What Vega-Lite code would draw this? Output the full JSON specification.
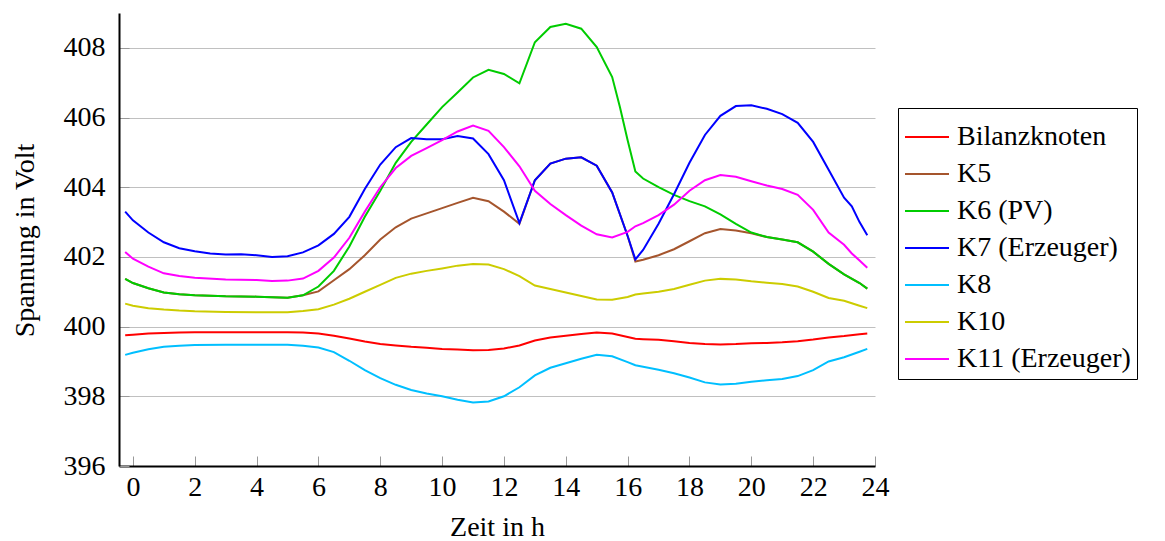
{
"$schema":"https://vega.github.io/schema/vega-lite/v6.json",
"width":756,"height":453,
"autosize":{"type":"none"},
"padding":{"left":119,"top":13,"right":290,"bottom":75},
"background":"white",
"config":{"view":{"stroke":null},"font":"Liberation Serif"},
"data":{"values":[
{"s":"Bilanzknoten","t":-0.25,"v":399.75},{"s":"Bilanzknoten","t":0,"v":399.77},{"s":"Bilanzknoten","t":0.5,"v":399.8},{"s":"Bilanzknoten","t":1,"v":399.82},{"s":"Bilanzknoten","t":1.5,"v":399.83},{"s":"Bilanzknoten","t":2,"v":399.84},{"s":"Bilanzknoten","t":3,"v":399.84},{"s":"Bilanzknoten","t":4,"v":399.84},{"s":"Bilanzknoten","t":5,"v":399.84},{"s":"Bilanzknoten","t":5.5,"v":399.83},{"s":"Bilanzknoten","t":6,"v":399.8},{"s":"Bilanzknoten","t":6.5,"v":399.74},{"s":"Bilanzknoten","t":7,"v":399.66},{"s":"Bilanzknoten","t":7.5,"v":399.57},{"s":"Bilanzknoten","t":8,"v":399.5},{"s":"Bilanzknoten","t":8.5,"v":399.46},{"s":"Bilanzknoten","t":9,"v":399.42},{"s":"Bilanzknoten","t":9.5,"v":399.39},{"s":"Bilanzknoten","t":10,"v":399.36},{"s":"Bilanzknoten","t":10.5,"v":399.34},{"s":"Bilanzknoten","t":11,"v":399.32},{"s":"Bilanzknoten","t":11.5,"v":399.33},{"s":"Bilanzknoten","t":12,"v":399.37},{"s":"Bilanzknoten","t":12.5,"v":399.46},{"s":"Bilanzknoten","t":13,"v":399.6},{"s":"Bilanzknoten","t":13.5,"v":399.69},{"s":"Bilanzknoten","t":14,"v":399.74},{"s":"Bilanzknoten","t":14.5,"v":399.79},{"s":"Bilanzknoten","t":15,"v":399.83},{"s":"Bilanzknoten","t":15.5,"v":399.8},{"s":"Bilanzknoten","t":16,"v":399.7},{"s":"Bilanzknoten","t":16.25,"v":399.65},{"s":"Bilanzknoten","t":16.5,"v":399.64},{"s":"Bilanzknoten","t":17,"v":399.62},{"s":"Bilanzknoten","t":17.5,"v":399.58},{"s":"Bilanzknoten","t":18,"v":399.53},{"s":"Bilanzknoten","t":18.5,"v":399.5},{"s":"Bilanzknoten","t":19,"v":399.49},{"s":"Bilanzknoten","t":19.5,"v":399.5},{"s":"Bilanzknoten","t":20,"v":399.52},{"s":"Bilanzknoten","t":20.5,"v":399.53},{"s":"Bilanzknoten","t":21,"v":399.55},{"s":"Bilanzknoten","t":21.5,"v":399.58},{"s":"Bilanzknoten","t":22,"v":399.63},{"s":"Bilanzknoten","t":22.5,"v":399.69},{"s":"Bilanzknoten","t":23,"v":399.73},{"s":"Bilanzknoten","t":23.5,"v":399.78},{"s":"Bilanzknoten","t":23.75,"v":399.8},
{"s":"K5","t":-0.25,"v":401.37},{"s":"K5","t":0,"v":401.25},{"s":"K5","t":0.5,"v":401.1},{"s":"K5","t":1,"v":400.98},{"s":"K5","t":1.5,"v":400.93},{"s":"K5","t":2,"v":400.9},{"s":"K5","t":3,"v":400.87},{"s":"K5","t":4,"v":400.86},{"s":"K5","t":5,"v":400.83},{"s":"K5","t":5.5,"v":400.9},{"s":"K5","t":6,"v":401.01},{"s":"K5","t":6.5,"v":401.33},{"s":"K5","t":7,"v":401.65},{"s":"K5","t":7.5,"v":402.05},{"s":"K5","t":8,"v":402.5},{"s":"K5","t":8.5,"v":402.85},{"s":"K5","t":9,"v":403.1},{"s":"K5","t":9.5,"v":403.25},{"s":"K5","t":10,"v":403.4},{"s":"K5","t":10.5,"v":403.55},{"s":"K5","t":11,"v":403.7},{"s":"K5","t":11.5,"v":403.6},{"s":"K5","t":12,"v":403.3},{"s":"K5","t":12.5,"v":402.95},{"s":"K5","t":13,"v":404.2},{"s":"K5","t":13.5,"v":404.68},{"s":"K5","t":14,"v":404.82},{"s":"K5","t":14.5,"v":404.86},{"s":"K5","t":15,"v":404.62},{"s":"K5","t":15.5,"v":403.85},{"s":"K5","t":16,"v":402.6},{"s":"K5","t":16.25,"v":401.87},{"s":"K5","t":16.5,"v":401.92},{"s":"K5","t":17,"v":402.05},{"s":"K5","t":17.5,"v":402.22},{"s":"K5","t":18,"v":402.45},{"s":"K5","t":18.5,"v":402.68},{"s":"K5","t":19,"v":402.8},{"s":"K5","t":19.5,"v":402.76},{"s":"K5","t":20,"v":402.68},{"s":"K5","t":20.5,"v":402.57},{"s":"K5","t":21,"v":402.5},{"s":"K5","t":21.5,"v":402.42},{"s":"K5","t":22,"v":402.15},{"s":"K5","t":22.5,"v":401.8},{"s":"K5","t":23,"v":401.5},{"s":"K5","t":23.5,"v":401.25},{"s":"K5","t":23.75,"v":401.09},
{"s":"K6 (PV)","t":-0.25,"v":401.37},{"s":"K6 (PV)","t":0,"v":401.25},{"s":"K6 (PV)","t":0.5,"v":401.1},{"s":"K6 (PV)","t":1,"v":400.98},{"s":"K6 (PV)","t":1.5,"v":400.93},{"s":"K6 (PV)","t":2,"v":400.9},{"s":"K6 (PV)","t":3,"v":400.87},{"s":"K6 (PV)","t":4,"v":400.86},{"s":"K6 (PV)","t":5,"v":400.83},{"s":"K6 (PV)","t":5.5,"v":400.9},{"s":"K6 (PV)","t":6,"v":401.15},{"s":"K6 (PV)","t":6.5,"v":401.6},{"s":"K6 (PV)","t":7,"v":402.3},{"s":"K6 (PV)","t":7.5,"v":403.15},{"s":"K6 (PV)","t":8,"v":403.9},{"s":"K6 (PV)","t":8.5,"v":404.7},{"s":"K6 (PV)","t":9,"v":405.3},{"s":"K6 (PV)","t":9.5,"v":405.8},{"s":"K6 (PV)","t":10,"v":406.3},{"s":"K6 (PV)","t":10.5,"v":406.72},{"s":"K6 (PV)","t":11,"v":407.15},{"s":"K6 (PV)","t":11.5,"v":407.37},{"s":"K6 (PV)","t":12,"v":407.25},{"s":"K6 (PV)","t":12.5,"v":406.98},{"s":"K6 (PV)","t":13,"v":408.16},{"s":"K6 (PV)","t":13.5,"v":408.6},{"s":"K6 (PV)","t":14,"v":408.69},{"s":"K6 (PV)","t":14.5,"v":408.55},{"s":"K6 (PV)","t":15,"v":408.02},{"s":"K6 (PV)","t":15.5,"v":407.16},{"s":"K6 (PV)","t":15.75,"v":406.3},{"s":"K6 (PV)","t":16,"v":405.35},{"s":"K6 (PV)","t":16.25,"v":404.45},{"s":"K6 (PV)","t":16.5,"v":404.25},{"s":"K6 (PV)","t":17,"v":404.0},{"s":"K6 (PV)","t":17.5,"v":403.78},{"s":"K6 (PV)","t":18,"v":403.6},{"s":"K6 (PV)","t":18.5,"v":403.45},{"s":"K6 (PV)","t":19,"v":403.22},{"s":"K6 (PV)","t":19.5,"v":402.95},{"s":"K6 (PV)","t":20,"v":402.7},{"s":"K6 (PV)","t":20.5,"v":402.57},{"s":"K6 (PV)","t":21,"v":402.5},{"s":"K6 (PV)","t":21.5,"v":402.42},{"s":"K6 (PV)","t":22,"v":402.15},{"s":"K6 (PV)","t":22.5,"v":401.8},{"s":"K6 (PV)","t":23,"v":401.5},{"s":"K6 (PV)","t":23.5,"v":401.25},{"s":"K6 (PV)","t":23.75,"v":401.09},
{"s":"K7 (Erzeuger)","t":-0.25,"v":403.3},{"s":"K7 (Erzeuger)","t":0,"v":403.05},{"s":"K7 (Erzeuger)","t":0.5,"v":402.7},{"s":"K7 (Erzeuger)","t":1,"v":402.42},{"s":"K7 (Erzeuger)","t":1.5,"v":402.25},{"s":"K7 (Erzeuger)","t":2,"v":402.16},{"s":"K7 (Erzeuger)","t":2.5,"v":402.1},{"s":"K7 (Erzeuger)","t":3,"v":402.07},{"s":"K7 (Erzeuger)","t":3.5,"v":402.08},{"s":"K7 (Erzeuger)","t":4,"v":402.05},{"s":"K7 (Erzeuger)","t":4.5,"v":402.0},{"s":"K7 (Erzeuger)","t":5,"v":402.02},{"s":"K7 (Erzeuger)","t":5.5,"v":402.13},{"s":"K7 (Erzeuger)","t":6,"v":402.33},{"s":"K7 (Erzeuger)","t":6.5,"v":402.66},{"s":"K7 (Erzeuger)","t":7,"v":403.15},{"s":"K7 (Erzeuger)","t":7.5,"v":403.95},{"s":"K7 (Erzeuger)","t":8,"v":404.65},{"s":"K7 (Erzeuger)","t":8.5,"v":405.15},{"s":"K7 (Erzeuger)","t":9,"v":405.41},{"s":"K7 (Erzeuger)","t":9.5,"v":405.38},{"s":"K7 (Erzeuger)","t":10,"v":405.38},{"s":"K7 (Erzeuger)","t":10.5,"v":405.47},{"s":"K7 (Erzeuger)","t":11,"v":405.4},{"s":"K7 (Erzeuger)","t":11.5,"v":404.95},{"s":"K7 (Erzeuger)","t":12,"v":404.2},{"s":"K7 (Erzeuger)","t":12.5,"v":402.97},{"s":"K7 (Erzeuger)","t":13,"v":404.2},{"s":"K7 (Erzeuger)","t":13.5,"v":404.68},{"s":"K7 (Erzeuger)","t":14,"v":404.82},{"s":"K7 (Erzeuger)","t":14.5,"v":404.86},{"s":"K7 (Erzeuger)","t":15,"v":404.62},{"s":"K7 (Erzeuger)","t":15.5,"v":403.85},{"s":"K7 (Erzeuger)","t":16,"v":402.6},{"s":"K7 (Erzeuger)","t":16.25,"v":401.93},{"s":"K7 (Erzeuger)","t":16.5,"v":402.2},{"s":"K7 (Erzeuger)","t":17,"v":402.95},{"s":"K7 (Erzeuger)","t":17.5,"v":403.8},{"s":"K7 (Erzeuger)","t":18,"v":404.7},{"s":"K7 (Erzeuger)","t":18.5,"v":405.5},{"s":"K7 (Erzeuger)","t":19,"v":406.05},{"s":"K7 (Erzeuger)","t":19.5,"v":406.33},{"s":"K7 (Erzeuger)","t":20,"v":406.35},{"s":"K7 (Erzeuger)","t":20.5,"v":406.25},{"s":"K7 (Erzeuger)","t":21,"v":406.1},{"s":"K7 (Erzeuger)","t":21.5,"v":405.85},{"s":"K7 (Erzeuger)","t":22,"v":405.3},{"s":"K7 (Erzeuger)","t":22.5,"v":404.5},{"s":"K7 (Erzeuger)","t":23,"v":403.7},{"s":"K7 (Erzeuger)","t":23.25,"v":403.45},{"s":"K7 (Erzeuger)","t":23.5,"v":403.0},{"s":"K7 (Erzeuger)","t":23.75,"v":402.62},
{"s":"K8","t":-0.25,"v":399.19},{"s":"K8","t":0,"v":399.25},{"s":"K8","t":0.5,"v":399.35},{"s":"K8","t":1,"v":399.42},{"s":"K8","t":1.5,"v":399.45},{"s":"K8","t":2,"v":399.47},{"s":"K8","t":3,"v":399.48},{"s":"K8","t":4,"v":399.48},{"s":"K8","t":5,"v":399.48},{"s":"K8","t":5.5,"v":399.45},{"s":"K8","t":6,"v":399.4},{"s":"K8","t":6.5,"v":399.27},{"s":"K8","t":7,"v":399.02},{"s":"K8","t":7.5,"v":398.75},{"s":"K8","t":8,"v":398.52},{"s":"K8","t":8.5,"v":398.33},{"s":"K8","t":9,"v":398.18},{"s":"K8","t":9.5,"v":398.08},{"s":"K8","t":10,"v":398.0},{"s":"K8","t":10.5,"v":397.9},{"s":"K8","t":11,"v":397.82},{"s":"K8","t":11.5,"v":397.85},{"s":"K8","t":12,"v":398.0},{"s":"K8","t":12.5,"v":398.26},{"s":"K8","t":13,"v":398.6},{"s":"K8","t":13.5,"v":398.82},{"s":"K8","t":14,"v":398.95},{"s":"K8","t":14.5,"v":399.08},{"s":"K8","t":15,"v":399.19},{"s":"K8","t":15.5,"v":399.15},{"s":"K8","t":16,"v":398.98},{"s":"K8","t":16.25,"v":398.89},{"s":"K8","t":16.5,"v":398.85},{"s":"K8","t":17,"v":398.76},{"s":"K8","t":17.5,"v":398.66},{"s":"K8","t":18,"v":398.54},{"s":"K8","t":18.5,"v":398.4},{"s":"K8","t":19,"v":398.34},{"s":"K8","t":19.5,"v":398.36},{"s":"K8","t":20,"v":398.42},{"s":"K8","t":20.5,"v":398.46},{"s":"K8","t":21,"v":398.5},{"s":"K8","t":21.5,"v":398.58},{"s":"K8","t":22,"v":398.75},{"s":"K8","t":22.5,"v":399.0},{"s":"K8","t":23,"v":399.12},{"s":"K8","t":23.5,"v":399.28},{"s":"K8","t":23.75,"v":399.36},
{"s":"K10","t":-0.25,"v":400.66},{"s":"K10","t":0,"v":400.6},{"s":"K10","t":0.5,"v":400.53},{"s":"K10","t":1,"v":400.49},{"s":"K10","t":1.5,"v":400.46},{"s":"K10","t":2,"v":400.44},{"s":"K10","t":3,"v":400.42},{"s":"K10","t":4,"v":400.41},{"s":"K10","t":5,"v":400.41},{"s":"K10","t":5.5,"v":400.45},{"s":"K10","t":6,"v":400.5},{"s":"K10","t":6.5,"v":400.63},{"s":"K10","t":7,"v":400.8},{"s":"K10","t":7.5,"v":401.0},{"s":"K10","t":8,"v":401.2},{"s":"K10","t":8.5,"v":401.4},{"s":"K10","t":9,"v":401.52},{"s":"K10","t":9.5,"v":401.6},{"s":"K10","t":10,"v":401.67},{"s":"K10","t":10.5,"v":401.75},{"s":"K10","t":11,"v":401.8},{"s":"K10","t":11.5,"v":401.78},{"s":"K10","t":12,"v":401.65},{"s":"K10","t":12.5,"v":401.45},{"s":"K10","t":13,"v":401.18},{"s":"K10","t":13.5,"v":401.08},{"s":"K10","t":14,"v":400.98},{"s":"K10","t":14.5,"v":400.88},{"s":"K10","t":15,"v":400.78},{"s":"K10","t":15.5,"v":400.77},{"s":"K10","t":16,"v":400.85},{"s":"K10","t":16.25,"v":400.92},{"s":"K10","t":16.5,"v":400.95},{"s":"K10","t":17,"v":401.0},{"s":"K10","t":17.5,"v":401.08},{"s":"K10","t":18,"v":401.2},{"s":"K10","t":18.5,"v":401.32},{"s":"K10","t":19,"v":401.37},{"s":"K10","t":19.5,"v":401.35},{"s":"K10","t":20,"v":401.3},{"s":"K10","t":20.5,"v":401.26},{"s":"K10","t":21,"v":401.22},{"s":"K10","t":21.5,"v":401.15},{"s":"K10","t":22,"v":401.0},{"s":"K10","t":22.5,"v":400.82},{"s":"K10","t":23,"v":400.74},{"s":"K10","t":23.5,"v":400.6},{"s":"K10","t":23.75,"v":400.53},
{"s":"K11 (Erzeuger)","t":-0.25,"v":402.14},{"s":"K11 (Erzeuger)","t":0,"v":401.95},{"s":"K11 (Erzeuger)","t":0.5,"v":401.72},{"s":"K11 (Erzeuger)","t":1,"v":401.53},{"s":"K11 (Erzeuger)","t":1.5,"v":401.45},{"s":"K11 (Erzeuger)","t":2,"v":401.4},{"s":"K11 (Erzeuger)","t":3,"v":401.35},{"s":"K11 (Erzeuger)","t":4,"v":401.34},{"s":"K11 (Erzeuger)","t":4.5,"v":401.31},{"s":"K11 (Erzeuger)","t":5,"v":401.32},{"s":"K11 (Erzeuger)","t":5.5,"v":401.38},{"s":"K11 (Erzeuger)","t":6,"v":401.6},{"s":"K11 (Erzeuger)","t":6.5,"v":401.98},{"s":"K11 (Erzeuger)","t":7,"v":402.55},{"s":"K11 (Erzeuger)","t":7.5,"v":403.3},{"s":"K11 (Erzeuger)","t":8,"v":404.0},{"s":"K11 (Erzeuger)","t":8.5,"v":404.55},{"s":"K11 (Erzeuger)","t":9,"v":404.9},{"s":"K11 (Erzeuger)","t":9.5,"v":405.12},{"s":"K11 (Erzeuger)","t":10,"v":405.35},{"s":"K11 (Erzeuger)","t":10.5,"v":405.6},{"s":"K11 (Erzeuger)","t":11,"v":405.77},{"s":"K11 (Erzeuger)","t":11.5,"v":405.62},{"s":"K11 (Erzeuger)","t":12,"v":405.15},{"s":"K11 (Erzeuger)","t":12.5,"v":404.6},{"s":"K11 (Erzeuger)","t":13,"v":403.9},{"s":"K11 (Erzeuger)","t":13.5,"v":403.52},{"s":"K11 (Erzeuger)","t":14,"v":403.2},{"s":"K11 (Erzeuger)","t":14.5,"v":402.9},{"s":"K11 (Erzeuger)","t":15,"v":402.65},{"s":"K11 (Erzeuger)","t":15.5,"v":402.56},{"s":"K11 (Erzeuger)","t":16,"v":402.72},{"s":"K11 (Erzeuger)","t":16.25,"v":402.88},{"s":"K11 (Erzeuger)","t":16.5,"v":402.97},{"s":"K11 (Erzeuger)","t":17,"v":403.2},{"s":"K11 (Erzeuger)","t":17.5,"v":403.5},{"s":"K11 (Erzeuger)","t":18,"v":403.9},{"s":"K11 (Erzeuger)","t":18.5,"v":404.2},{"s":"K11 (Erzeuger)","t":19,"v":404.35},{"s":"K11 (Erzeuger)","t":19.5,"v":404.3},{"s":"K11 (Erzeuger)","t":20,"v":404.17},{"s":"K11 (Erzeuger)","t":20.5,"v":404.05},{"s":"K11 (Erzeuger)","t":21,"v":403.95},{"s":"K11 (Erzeuger)","t":21.5,"v":403.78},{"s":"K11 (Erzeuger)","t":22,"v":403.35},{"s":"K11 (Erzeuger)","t":22.5,"v":402.7},{"s":"K11 (Erzeuger)","t":23,"v":402.35},{"s":"K11 (Erzeuger)","t":23.25,"v":402.1},{"s":"K11 (Erzeuger)","t":23.5,"v":401.9},{"s":"K11 (Erzeuger)","t":23.75,"v":401.69}
]},
"mark":{"type":"line","strokeWidth":2},
"encoding":{
"x":{"field":"t","type":"quantitative","scale":{"domain":[-0.45,24],"nice":false,"zero":false},
 "axis":{"title":"Zeit in h","values":[0,2,4,6,8,10,12,14,16,18,20,22,24],"grid":false,"domainColor":"black","domainWidth":2,"tickSize":-10,"tickColor":"#999999","tickWidth":1,"labelPadding":17,"labelFontSize":28,"labelColor":"black","labelFlush":false,"titleFontSize":28,"titleFontWeight":"normal","titleColor":"black","titleBaseline":"alphabetic","titleY":69}},
"y":{"field":"v","type":"quantitative","scale":{"domain":[396,409],"nice":false,"zero":false},
 "axis":{"title":"Spannung in Volt","values":[396,398,400,402,404,406,408],"grid":true,"gridColor":"#c0c0c0","gridWidth":1,"domainColor":"black","domainWidth":2,"tickSize":-10,"tickColor":"#999999","tickWidth":1,"labelPadding":24,"labelFontSize":28,"labelColor":"black","labelFlush":false,"titleFontSize":28,"titleFontWeight":"normal","titleColor":"black","titleBaseline":"alphabetic","titleAngle":-90,"titleX":-86,"titleY":227}},
"color":{"field":"s","type":"nominal","sort":["Bilanzknoten","K5","K6 (PV)","K7 (Erzeuger)","K8","K10","K11 (Erzeuger)"],
 "scale":{"domain":["Bilanzknoten","K5","K6 (PV)","K7 (Erzeuger)","K8","K10","K11 (Erzeuger)"],"range":["#ff0000","#a5552d","#00cc00","#0000ff","#00bfff","#cccc00","#ff00ff"]},
 "legend":{"title":null,"orient":"none","legendX":779,"legendY":95,"strokeColor":"black","padding":6,"symbolType":"stroke","symbolSize":1936,"symbolStrokeWidth":2,"labelFontSize":28,"labelColor":"black","labelOffset":7,"rowPadding":-2,"labelLimit":400}}
}
}
